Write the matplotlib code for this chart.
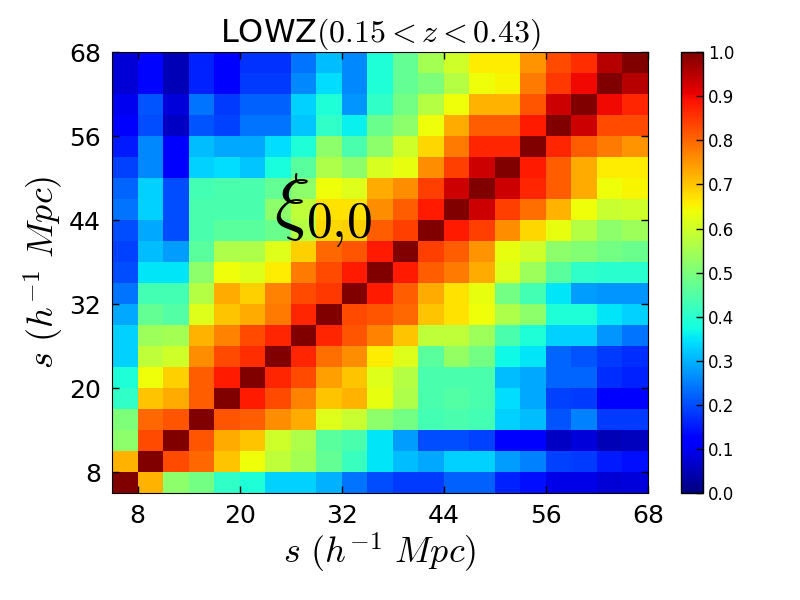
import numpy as np
import matplotlib as mpl
mpl.use('Agg')
import matplotlib.pyplot as plt

# bin edges in s (h^-1 Mpc) and ticks
s_edges = [5, 8, 11, 14, 17, 20, 23, 26, 29, 32, 35, 38, 41, 44, 47, 50, 53, 56, 59, 62, 65, 68]
s_ticks = [8, 20, 32, 44, 56, 68]
cbar_ticks = [0.0, 0.1, 0.2, 0.3, 0.4, 0.5, 0.6, 0.7, 0.8, 0.9, 1.0]

# correlation matrix rows, bottom (small s) to top
r00 = [1.00, 0.72, 0.52, 0.49, 0.41, 0.39, 0.33, 0.33, 0.30, 0.24, 0.20, 0.18, 0.18, 0.22, 0.22, 0.16, 0.14, 0.09, 0.09, 0.075, 0.08]
r01 = [0.72, 1.00, 0.83, 0.80, 0.70, 0.64, 0.58, 0.55, 0.47, 0.42, 0.35, 0.31, 0.29, 0.33, 0.33, 0.28, 0.25, 0.19, 0.18, 0.15, 0.14]
r02 = [0.52, 0.83, 1.00, 0.82, 0.73, 0.70, 0.60, 0.56, 0.46, 0.44, 0.35, 0.28, 0.20, 0.20, 0.19, 0.11, 0.12, 0.06, 0.08, 0.05, 0.055]
r03 = [0.50, 0.80, 0.82, 1.00, 0.82, 0.81, 0.76, 0.73, 0.62, 0.59, 0.52, 0.49, 0.43, 0.44, 0.43, 0.33, 0.31, 0.21, 0.25, 0.18, 0.18]
r04 = [0.41, 0.70, 0.73, 0.81, 1.00, 0.88, 0.83, 0.77, 0.70, 0.72, 0.63, 0.56, 0.44, 0.45, 0.44, 0.34, 0.29, 0.19, 0.18, 0.12, 0.12]
r05 = [0.39, 0.64, 0.69, 0.81, 0.88, 1.00, 0.87, 0.83, 0.74, 0.70, 0.62, 0.57, 0.44, 0.44, 0.44, 0.31, 0.29, 0.225, 0.225, 0.17, 0.16]
r06 = [0.33, 0.58, 0.60, 0.76, 0.83, 0.86, 1.00, 0.87, 0.79, 0.76, 0.66, 0.62, 0.46, 0.53, 0.49, 0.37, 0.35, 0.225, 0.21, 0.18, 0.17]
r07 = [0.33, 0.54, 0.55, 0.72, 0.77, 0.83, 0.87, 1.00, 0.87, 0.82, 0.77, 0.70, 0.58, 0.58, 0.54, 0.44, 0.39, 0.33, 0.33, 0.27, 0.24]
r08 = [0.29, 0.47, 0.45, 0.62, 0.70, 0.73, 0.78, 0.87, 1.00, 0.83, 0.82, 0.80, 0.70, 0.67, 0.64, 0.56, 0.52, 0.39, 0.39, 0.35, 0.33]
r09 = [0.24, 0.43, 0.43, 0.57, 0.73, 0.69, 0.77, 0.83, 0.85, 1.00, 0.88, 0.81, 0.73, 0.67, 0.63, 0.49, 0.43, 0.35, 0.28, 0.27, 0.27]
r10 = [0.20, 0.35, 0.35, 0.52, 0.64, 0.62, 0.66, 0.78, 0.83, 0.88, 1.00, 0.88, 0.81, 0.78, 0.73, 0.62, 0.54, 0.46, 0.41, 0.40, 0.40]
r11 = [0.19, 0.31, 0.28, 0.46, 0.56, 0.56, 0.62, 0.69, 0.80, 0.82, 0.88, 1.00, 0.84, 0.81, 0.75, 0.63, 0.60, 0.52, 0.51, 0.49, 0.48]
r12 = [0.20, 0.29, 0.20, 0.44, 0.46, 0.46, 0.48, 0.57, 0.68, 0.69, 0.81, 0.84, 1.00, 0.88, 0.84, 0.76, 0.68, 0.63, 0.57, 0.52, 0.54]
r13 = [0.24, 0.33, 0.20, 0.44, 0.44, 0.44, 0.52, 0.58, 0.67, 0.67, 0.76, 0.81, 0.88, 1.00, 0.93, 0.84, 0.79, 0.72, 0.64, 0.59, 0.60]
r14 = [0.225, 0.33, 0.20, 0.43, 0.44, 0.44, 0.47, 0.52, 0.64, 0.62, 0.73, 0.76, 0.84, 0.93, 1.00, 0.93, 0.87, 0.81, 0.73, 0.64, 0.65]
r15 = [0.19, 0.26, 0.12, 0.33, 0.34, 0.32, 0.38, 0.46, 0.56, 0.52, 0.61, 0.63, 0.76, 0.84, 0.93, 1.00, 0.88, 0.81, 0.73, 0.66, 0.66]
r16 = [0.15, 0.26, 0.12, 0.31, 0.29, 0.29, 0.34, 0.39, 0.52, 0.44, 0.52, 0.60, 0.68, 0.78, 0.87, 0.87, 1.00, 0.87, 0.81, 0.78, 0.75]
r17 = [0.11, 0.20, 0.06, 0.21, 0.19, 0.24, 0.24, 0.32, 0.41, 0.36, 0.48, 0.52, 0.64, 0.73, 0.81, 0.81, 0.88, 1.00, 0.93, 0.83, 0.83]
r18 = [0.10, 0.21, 0.08, 0.24, 0.18, 0.22, 0.22, 0.33, 0.39, 0.27, 0.41, 0.49, 0.57, 0.64, 0.72, 0.72, 0.82, 0.93, 1.00, 0.90, 0.87]
r19 = [0.075, 0.13, 0.05, 0.16, 0.12, 0.18, 0.18, 0.26, 0.34, 0.26, 0.39, 0.47, 0.50, 0.57, 0.64, 0.65, 0.78, 0.85, 0.90, 1.00, 0.95]
r20 = [0.075, 0.13, 0.05, 0.16, 0.12, 0.175, 0.175, 0.24, 0.31, 0.26, 0.39, 0.47, 0.55, 0.60, 0.66, 0.66, 0.75, 0.83, 0.86, 0.95, 1.00]

corr = np.array([r00, r01, r02, r03, r04, r05, r06, r07, r08, r09, r10,
                 r11, r12, r13, r14, r15, r16, r17, r18, r19, r20])

plt.rcParams['mathtext.fontset'] = 'cm'
plt.rcParams['font.family'] = 'DejaVu Sans'
plt.rcParams['xtick.direction'] = 'in'
plt.rcParams['ytick.direction'] = 'in'

fig = plt.figure(figsize=(8.0, 6.0), dpi=100)
ax = fig.add_axes([0.14, 0.178, 0.67, 0.735])
cax = fig.add_axes([0.851, 0.178, 0.028, 0.735])

mesh = ax.pcolormesh(s_edges, s_edges, corr, cmap='jet', vmin=0.0, vmax=1.0)
ax.set_xlim(s_edges[0], s_edges[-1])
ax.set_ylim(s_edges[0], s_edges[-1])
ax.set_xticks(s_ticks)
ax.set_yticks(s_ticks)
ax.tick_params(axis='both', which='both', direction='in', top=True, right=True,
               labelsize=18, length=5, width=1, pad=8)
ax.set_xlabel(r"$s\ (h^{-1}\ Mpc)$", fontsize=26, labelpad=2)
ax.set_ylabel(r"$s\ (h^{-1}\ Mpc)$", fontsize=26, labelpad=2)
ax.set_title(r"LOWZ$(0.15<z<0.43)$", fontsize=23, pad=2)
ax.text(24.0, 43.3, r"$\xi_{0{,}0}$", fontsize=53, color='black')

cb = fig.colorbar(mesh, cax=cax, ticks=cbar_ticks)
cb.ax.set_yticklabels(['%.1f' % t for t in cbar_ticks])
cb.ax.tick_params(labelsize=12, direction='in', length=5, width=1)
cb.outline.set_linewidth(1)

plt.savefig('out.png', dpi=100)
